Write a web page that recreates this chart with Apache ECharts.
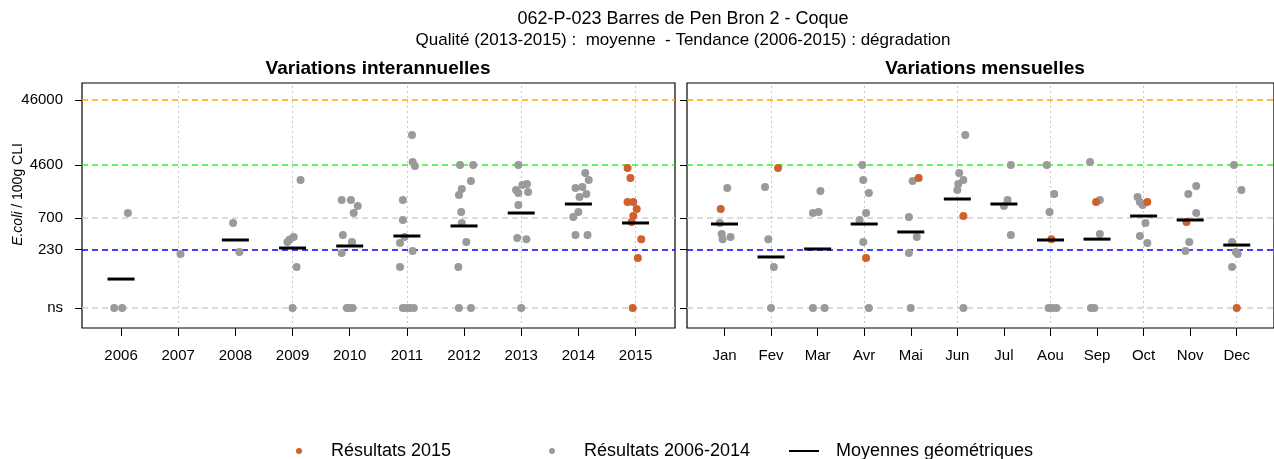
<!DOCTYPE html>
<html>
<head>
<meta charset="utf-8">
<script src="https://cdn.jsdelivr.net/npm/echarts@6/dist/echarts.min.js"></script>
<style>
  html, body { margin: 0; padding: 0; background: #ffffff; }
  #chart { width: 1274px; height: 459px; }
</style>
</head>
<body>
<div id="chart"></div>
<script>
// E. coli results (per 100 g of flesh and intervalvular liquid), site 062-P-023
const TITLE = '062-P-023 Barres de Pen Bron 2 - Coque';
const SUBTITLE = 'Qualité (2013-2015) :  moyenne  - Tendance (2006-2015) : dégradation';

const YEARS = ['2006', '2007', '2008', '2009', '2010', '2011', '2012', '2013', '2014', '2015'];
const MONTHS = ['Jan', 'Fev', 'Mar', 'Avr', 'Mai', 'Jun', 'Jul', 'Aou', 'Sep', 'Oct', 'Nov', 'Dec'];

// level at which non-significant results are plotted
const NS = 29;
const Y_TICKS = [NS, 230, 700, 4600, 46000];
const Y_TICK_LABELS = ['ns', '230', '700', '4600', '46000'];

// [category, E. coli / 100g, horizontal jitter in category units]
const annualPast = [
  ['2006', 840, 0.12], ['2006', NS, -0.12], ['2006', NS, 0.02],
  ['2007', 197, 0.04],
  ['2008', 590, -0.04], ['2008', 211, 0.07],
  ['2009', 2705, 0.14], ['2009', 359, 0.02], ['2009', 330, -0.05], ['2009', 301, -0.09], ['2009', 124, 0.07], ['2009', NS, 0],
  ['2010', 1333, -0.14], ['2010', 1333, 0.02], ['2010', 1077, 0.14], ['2010', 840, 0.07], ['2010', 385, -0.12],
  ['2010', 301, 0.04], ['2010', 204, -0.14], ['2010', NS, -0.05], ['2010', NS, 0], ['2010', NS, 0.05],
  ['2011', 13300, 0.09], ['2011', 5115, 0.10], ['2011', 4440, 0.14], ['2011', 1333, -0.07], ['2011', 656, -0.07],
  ['2011', 359, -0.04], ['2011', 290, -0.12], ['2011', 219, 0.10], ['2011', 124, -0.12],
  ['2011', NS, -0.07], ['2011', NS, -0.02], ['2011', NS, 0.05], ['2011', NS, 0.12],
  ['2012', 4600, -0.07], ['2012', 4600, 0.16], ['2012', 2610, 0.12], ['2012', 1966, -0.04], ['2012', 1588, -0.09],
  ['2012', 870, -0.05], ['2012', 590, -0.04], ['2012', 301, 0.04], ['2012', 124, -0.10], ['2012', NS, -0.09], ['2012', NS, 0.12],
  ['2013', 4600, -0.05], ['2013', 2350, 0.10], ['2013', 2270, 0.02], ['2013', 1897, -0.09], ['2013', 1768, 0.12],
  ['2013', 1710, -0.05], ['2013', 1115, -0.05], ['2013', 346, -0.07], ['2013', 333, 0.09], ['2013', NS, 0],
  ['2014', 3465, 0.12], ['2014', 2705, 0.18], ['2014', 2110, 0.07], ['2014', 2040, -0.05], ['2014', 1640, 0.14],
  ['2014', 1480, 0.02], ['2014', 870, 0], ['2014', 727, -0.09], ['2014', 385, -0.05], ['2014', 385, 0.16]
];
const annual2015 = [
  ['2015', 4140, -0.14], ['2015', 2900, -0.09], ['2015', 1242, -0.14], ['2015', 1242, -0.04], ['2015', 968, 0.02],
  ['2015', 755, -0.04], ['2015', 611, -0.07], ['2015', 333, 0.10], ['2015', 171, 0.04], ['2015', NS, -0.05]
];
const annualMeans = [
  ['2006', 81], ['2008', 323], ['2009', 243], ['2010', 261], ['2011', 372],
  ['2012', 531], ['2013', 840], ['2014', 1155], ['2015', 590]
];

const monthlyPast = [
  ['Jan', 2040, 0.06], ['Jan', 590, -0.10], ['Jan', 399, -0.06], ['Jan', 333, -0.04], ['Jan', 359, 0.13],
  ['Fev', 2110, -0.13], ['Fev', 333, -0.06], ['Fev', 124, 0.06], ['Fev', NS, 0],
  ['Mar', 1830, 0.06], ['Mar', 840, -0.10], ['Mar', 870, 0.02], ['Mar', NS, -0.10], ['Mar', NS, 0.15],
  ['Avr', 4600, -0.04], ['Avr', 2705, -0.02], ['Avr', 1710, 0.10], ['Avr', 840, 0.04], ['Avr', 656, -0.10],
  ['Avr', 301, -0.02], ['Avr', NS, 0.10],
  ['Mai', 2610, 0.04], ['Mai', 727, -0.04], ['Mai', 359, 0.13], ['Mai', 204, -0.04], ['Mai', NS, 0],
  ['Jun', 13300, 0.17], ['Jun', 3465, 0.04], ['Jun', 2705, 0.13], ['Jun', 2350, 0.02], ['Jun', 1897, 0], ['Jun', NS, 0.13],
  ['Jul', 4600, 0.15], ['Jul', 1333, 0.08], ['Jul', 1077, 0], ['Jul', 385, 0.15],
  ['Aou', 4600, -0.08], ['Aou', 1640, 0.08], ['Aou', 870, -0.02], ['Aou', NS, -0.04], ['Aou', NS, 0.04], ['Aou', NS, 0.13],
  ['Sep', 5115, -0.15], ['Sep', 1333, 0.06], ['Sep', 399, 0.06], ['Sep', NS, -0.13], ['Sep', NS, -0.06],
  ['Oct', 1480, -0.13], ['Oct', 1242, -0.08], ['Oct', 1115, -0.02], ['Oct', 590, 0.04], ['Oct', 372, -0.08], ['Oct', 290, 0.08],
  ['Nov', 2190, 0.13], ['Nov', 1640, -0.04], ['Nov', 840, 0.13], ['Nov', 301, -0.02], ['Nov', 219, -0.10],
  ['Dec', 4600, -0.06], ['Dec', 1897, 0.10], ['Dec', 301, -0.10], ['Dec', 211, -0.02], ['Dec', 197, 0.02], ['Dec', 124, -0.10]
];
const monthly2015 = [
  ['Jan', 968, -0.08], ['Fev', 4140, 0.15], ['Avr', 171, 0.04], ['Mai', 2900, 0.17], ['Jun', 755, 0.13],
  ['Aou', 333, 0.02], ['Sep', 1242, -0.02], ['Oct', 1242, 0.08], ['Nov', 611, -0.08], ['Dec', NS, 0]
];
const monthlyMeans = [
  ['Jan', 569], ['Fev', 177], ['Mar', 235], ['Avr', 569], ['Mai', 429], ['Jun', 1380],
  ['Jul', 1155], ['Aou', 323], ['Sep', 333], ['Oct', 755], ['Nov', 656], ['Dec', 270]
];

// categories carrying a vertical dotted guide
const annualGuides = ['2007', '2009', '2011', '2013', '2015'];
const monthlyGuides = ['Fev', 'Avr', 'Jun', 'Aou', 'Oct', 'Dec'];

// horizontal thresholds: [value, colour]
const thresholds = [
  [46000, '#ffa500'], [4600, '#33ee33'], [700, '#d0d0d0'], [230, '#0000ff'], [NS, '#d0d0d0']
];

const FONT = 'Liberation Sans';
const GRAY = '#9a9a9a';
const ORANGE = '#cf612d';
const lg = Math.log10;

function toPoints(rows, cats) {
  return rows.map(r => [cats.indexOf(r[0]) + 1 + (r[2] || 0), lg(r[1])]);
}

function yLabel(v) {
  for (let i = 0; i < Y_TICKS.length; i++) {
    if (Math.abs(lg(Y_TICKS[i]) - v) < 0.01) return Y_TICK_LABELS[i];
  }
  return '';
}

function guides(cats, guideCats) {
  const data = thresholds.map(t => ({ yAxis: lg(t[0]), lineStyle: { color: t[1], type: [6, 4], width: 1.5 } }));
  guideCats.forEach(c => data.push({ xAxis: cats.indexOf(c) + 1, lineStyle: { color: '#c8c8c8', type: [2, 3], width: 1 } }));
  return { silent: true, symbol: 'none', z: 1, label: { show: false }, data: data };
}

function xAxis(gridIndex, cats, min, max) {
  const ticks = cats.map((c, i) => i + 1);
  return {
    type: 'value', gridIndex, min, max,
    axisLine: { show: false, onZero: false },
    splitLine: { show: false },
    axisTick: { show: true, length: 8, customValues: ticks, lineStyle: { color: '#000', width: 1 } },
    axisLabel: {
      customValues: ticks, margin: 20, color: '#000', fontFamily: FONT, fontSize: 15,
      formatter: v => cats[Math.round(v) - 1]
    }
  };
}

function yAxis(gridIndex, showLabels) {
  const ticks = Y_TICKS.map(lg);
  const ax = {
    type: 'value', gridIndex, min: lg(14.3), max: lg(84000),
    axisLine: { show: false },
    splitLine: { show: false },
    axisTick: { show: true, length: 7, customValues: ticks, lineStyle: { color: '#000', width: 1 } },
    axisLabel: {
      show: showLabels, customValues: ticks, margin: 19, color: '#000', fontFamily: FONT, fontSize: 15,
      formatter: yLabel
    }
  };
  if (showLabels) {
    ax.name = '{i|E.coli} / 100g CLI';
    ax.nameLocation = 'middle';
    ax.nameRotate = 90;
    ax.nameGap = 57;
    ax.nameMoveOverlap = false;
    ax.nameTextStyle = {
      fontFamily: FONT, fontSize: 14, color: '#000', padding: [0, 0, 0, 22],
      rich: { i: { fontFamily: FONT, fontSize: 14, fontStyle: 'italic', color: '#000' } }
    };
  }
  return ax;
}

function panelSeries(gridIndex, cats, past, recent, means, guideCats) {
  return [
    {
      name: 'Résultats 2006-2014', type: 'scatter', xAxisIndex: gridIndex, yAxisIndex: gridIndex,
      symbolSize: 8, itemStyle: { color: GRAY, opacity: 1 }, z: 2,
      data: toPoints(past, cats), markLine: guides(cats, guideCats)
    },
    {
      name: 'Résultats 2015', type: 'scatter', xAxisIndex: gridIndex, yAxisIndex: gridIndex,
      symbolSize: 8, itemStyle: { color: ORANGE, opacity: 1 }, z: 3,
      data: toPoints(recent, cats)
    },
    {
      name: 'Moyennes géométriques', type: 'scatter', xAxisIndex: gridIndex, yAxisIndex: gridIndex,
      symbol: 'rect', symbolSize: [27, 3], itemStyle: { color: '#000', opacity: 1 }, z: 4,
      data: toPoints(means, cats)
    }
  ];
}

const legendText = { fontFamily: FONT, fontSize: 18, color: '#000' };

const option = {
  animation: false,
  backgroundColor: '#ffffff',
  textStyle: { fontFamily: FONT, color: '#000' },
  graphic: [
    { type: 'text', x: 683, y: 19, style: { text: TITLE, align: 'center', verticalAlign: 'middle', font: '18px "Liberation Sans"', fill: '#000' } },
    { type: 'text', x: 683, y: 40, style: { text: SUBTITLE, align: 'center', verticalAlign: 'middle', font: '17px "Liberation Sans"', fill: '#000' } },
    { type: 'text', x: 378, y: 69, style: { text: 'Variations interannuelles', align: 'center', verticalAlign: 'middle', font: 'bold 19px "Liberation Sans"', fill: '#000' } },
    { type: 'text', x: 985, y: 69, style: { text: 'Variations mensuelles', align: 'center', verticalAlign: 'middle', font: 'bold 19px "Liberation Sans"', fill: '#000' } }
  ],
  grid: [
    { left: 82, top: 83, width: 593, height: 245, show: true, borderColor: '#000', borderWidth: 1.2, backgroundColor: '#fff' },
    { left: 687, top: 83, right: -8, height: 245, show: true, borderColor: '#000', borderWidth: 1.2, backgroundColor: '#fff' }
  ],
  xAxis: [
    xAxis(0, YEARS, 0.317, 10.69),
    xAxis(1, MONTHS, 0.195, 12.80)
  ],
  yAxis: [yAxis(0, true), yAxis(1, false)],
  legend: [
    {
      data: ['Résultats 2015'], left: 291, top: 437, icon: 'circle', itemWidth: 54, itemHeight: 6,
      textStyle: legendText
    },
    {
      data: ['Résultats 2006-2014'], left: 544, top: 437, icon: 'circle', itemWidth: 54, itemHeight: 6,
      textStyle: legendText
    },
    {
      data: ['Moyennes géométriques'], left: 784, top: 437, icon: 'rect', itemWidth: 30, itemHeight: 2,
      textStyle: Object.assign({ padding: [0, 0, 0, 12] }, legendText)
    }
  ],
  series: [].concat(
    panelSeries(0, YEARS, annualPast, annual2015, annualMeans, annualGuides),
    panelSeries(1, MONTHS, monthlyPast, monthly2015, monthlyMeans, monthlyGuides)
  )
};

const chart = echarts.init(document.getElementById('chart'), null, { renderer: 'canvas' });
chart.setOption(option);
</script>
</body>
</html>
